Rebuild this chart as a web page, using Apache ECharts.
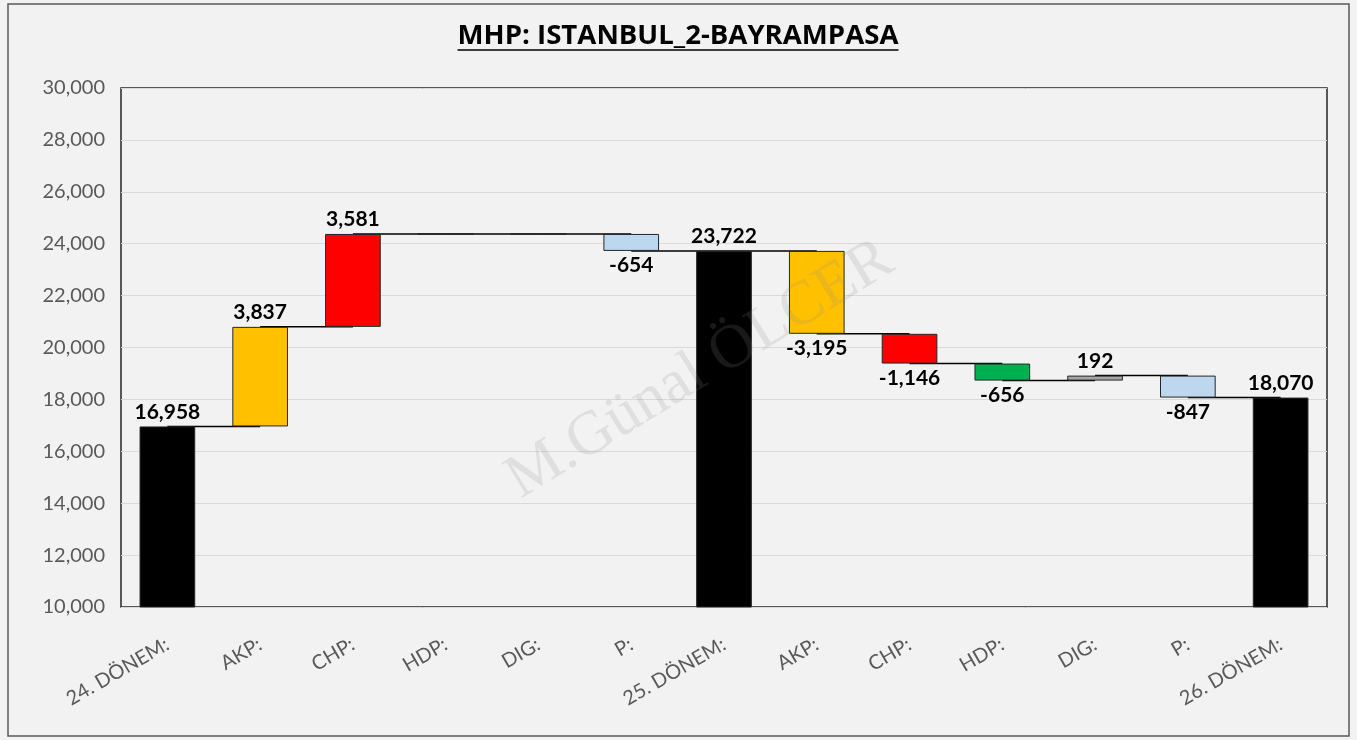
<!DOCTYPE html>
<html>
<head>
<meta charset="utf-8">
<script src="https://cdn.jsdelivr.net/npm/echarts@6/dist/echarts.min.js"></script>
<style>
  html, body { margin: 0; padding: 0; background: #f2f2f2; }
  #chart { width: 1357px; height: 740px; }
</style>
</head>
<body>
<div id="chart"></div>
<script>
// kategoriler ve degerler
const categories = ['24. DÖNEM:', 'AKP:', 'CHP:', 'HDP:', 'DIG:', 'P:', '25. DÖNEM:', 'AKP:', 'CHP:', 'HDP:', 'DIG:', 'P:', '26. DÖNEM:'];
const values = [16958, 3837, 3581, 0, 0, -654, 23722, -3195, -1146, -656, 192, -847, 18070];
const isTotal = [true, false, false, false, false, false, true, false, false, false, false, false, true];
const barColors = ['#000000', '#FFC000', '#FF0000', '#00B050', '#A6A6A6', '#BDD7EE', '#000000',
                   '#FFC000', '#FF0000', '#00B050', '#A6A6A6', '#BDD7EE', '#000000'];
const yTicks = { min: 10000, max: 30000, interval: 2000 };
const titleText = 'MHP: ISTANBUL_2-BAYRAMPASA';

// waterfall: gorunmez taban + gorunen bar
let running = 0;
const baseData = [];
const barData = [];
const endValues = [];
values.forEach((v, i) => {
  if (isTotal[i]) {
    baseData.push(0);
    barData.push({ value: v, raw: v, itemStyle: { color: barColors[i] } });
    running = v;
  } else {
    const start = running;
    const end = running + v;
    baseData.push(Math.min(start, end));
    barData.push({
      value: Math.abs(v), raw: v,
      itemStyle: { color: barColors[i] },
      label: { position: v < 0 ? 'bottom' : 'top', show: v !== 0 }
    });
    running = end;
  }
  endValues.push(running);
});
const connectors = endValues.slice(0, -1).map((e, i) => [i, e]);

const chart = echarts.init(document.getElementById('chart'));

// baslik genisligi (alt cizgi icin)
const titleFont = 'bold 27.6px "Open Sans"';
const ctx = document.createElement('canvas').getContext('2d');
ctx.font = titleFont;
const titleW = ctx.measureText(titleText).width;
const titleX = 678;

chart.setOption({
  backgroundColor: '#f2f2f2',
  animation: false,
  textStyle: { fontFamily: 'Lato' },
  graphic: [
    {
      type: 'rect', silent: true, z: -1,
      shape: { x: 8, y: 4, width: 1341, height: 732 },
      style: { fill: 'none', stroke: '#595959', lineWidth: 1.5 }
    },
    {
      type: 'text', x: titleX, y: 36,
      style: { text: titleText, font: titleFont, fill: '#000', align: 'center', verticalAlign: 'middle' }
    },
    {
      type: 'line',
      shape: { x1: titleX - titleW / 2, y1: 50, x2: titleX + titleW / 2, y2: 50 },
      style: { stroke: '#000', lineWidth: 1.5 }
    },
    {
      type: 'text', x: 700, y: 370, rotation: 0.55, z: 100, silent: true,
      style: {
        text: 'M.Günal ÖLCER', font: '62px "Liberation Serif"',
        fill: 'rgba(140,140,140,0.18)', align: 'center', verticalAlign: 'middle'
      }
    }
  ],
  grid: {
    left: 121, right: 30, top: 88, bottom: 133,
    show: true, borderColor: '#262626', borderWidth: 1.5, backgroundColor: '#f2f2f2'
  },
  xAxis: {
    type: 'category',
    data: categories,
    axisTick: { show: false },
    axisLine: { show: false },
    axisLabel: {
      interval: 0, rotate: 30, color: '#595959', fontSize: 20, margin: 36
    }
  },
  yAxis: {
    type: 'value',
    min: yTicks.min, max: yTicks.max, interval: yTicks.interval,
    axisLine: { show: false },
    axisTick: { show: false },
    axisLabel: {
      color: '#595959', fontSize: 20, margin: 16,
      formatter: v => v.toLocaleString('en-US')
    },
    splitLine: { lineStyle: { color: '#d9d9d9', width: 1 } }
  },
  series: [
    {
      type: 'custom',
      z: 1,
      renderItem: (params, api) => {
        const p1 = api.coord([api.value(0), api.value(1)]);
        const p2 = api.coord([api.value(0) + 1, api.value(1)]);
        return {
          type: 'line',
          shape: { x1: p1[0], y1: p1[1], x2: p2[0], y2: p2[1] },
          style: { stroke: '#000', lineWidth: 1.5 }
        };
      },
      encode: { x: 0, y: 1 },
      data: connectors
    },
    {
      name: 'base',
      type: 'bar',
      stack: 'w',
      barWidth: '60%',
      z: 2,
      itemStyle: { color: 'transparent' },
      silent: true,
      data: baseData
    },
    {
      name: 'value',
      type: 'bar',
      stack: 'w',
      barWidth: '60%',
      z: 3,
      itemStyle: { borderColor: '#262626', borderWidth: 1 },
      label: {
        show: true, position: 'top', color: '#000', fontSize: 21, fontWeight: 'bold', distance: 4,
        formatter: p => p.data.raw.toLocaleString('en-US')
      },
      data: barData
    }
  ]
});
</script>
</body>
</html>
